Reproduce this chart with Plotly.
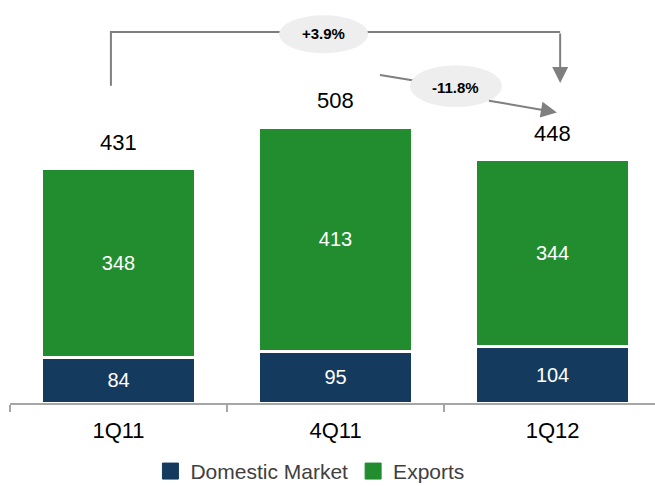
import plotly.graph_objects as go

categories = ["1Q11", "4Q11", "1Q12"]
domestic = [84, 95, 104]
exports = [348, 413, 344]
totals = [431, 508, 448]
series_names = ["Domestic Market", "Exports"]
growth_labels = ["+3.9%", "-11.8%"]

NAVY = "#143A5E"
GREEN = "#218D2F"
GRAY = "#7F7F7F"
FONT = "Arial, Liberation Sans, sans-serif"

fig = go.Figure()
for vals, name, color in [(domestic, series_names[0], NAVY), (exports, series_names[1], GREEN)]:
    fig.add_trace(go.Bar(
        x=categories, y=vals, name=name, showlegend=False,
        marker=dict(color=color, line=dict(color="white", width=3)),
        text=[str(v) for v in vals], textposition="inside",
        insidetextanchor="middle", textangle=0,
        textfont=dict(color="white", size=20, family=FONT),
    ))
# legend entries (square swatches)
for name, color in [(series_names[0], NAVY), (series_names[1], GREEN)]:
    fig.add_trace(go.Scatter(
        x=[None], y=[None], mode="markers", name=name, showlegend=True,
        marker=dict(symbol="square", size=16, color=color, line=dict(color=color, width=1)),
    ))

annotations = []
for c, t in zip(categories, totals):
    annotations.append(dict(x=c, y=t, text=str(t), showarrow=False,
                            yanchor="bottom", yshift=12,
                            font=dict(size=22, color="black", family=FONT)))

shapes = []
# bracket from 1Q11 to 1Q12
yb = 683
shapes.append(dict(type="path", path=f"M -0.035,584 L -0.035,{yb} L 2.035,{yb}",
                   line=dict(color=GRAY, width=2), layer="above"))
annotations.append(dict(x=2.035, y=589, ax=2.035, ay=yb, xref="x", yref="y",
                        axref="x", ayref="y", showarrow=True, arrowhead=2,
                        arrowsize=1.6, arrowwidth=2, arrowcolor=GRAY, text=""))
# diagonal arrow 4Q11 -> 1Q12
shapes.append(dict(type="line", x0=1.205, y0=604, x1=1.6, y1=578,
                   line=dict(color=GRAY, width=2), layer="above"))
annotations.append(dict(x=2.02, y=535, ax=1.7, ay=557, xref="x", yref="y",
                        axref="x", ayref="y", showarrow=True, arrowhead=2,
                        arrowsize=1.6, arrowwidth=2, arrowcolor=GRAY, text=""))
# ellipses
shapes.append(dict(type="circle", x0=0.74, x1=1.15, y0=644, y1=714,
                   fillcolor="#EEEEEE", line=dict(width=0), layer="above"))
shapes.append(dict(type="circle", x0=1.343, x1=1.767, y0=545, y1=622,
                   fillcolor="#EEEEEE", line=dict(width=0), layer="above"))
annotations.append(dict(x=0.945, y=681, text=f"<b>{growth_labels[0]}</b>", showarrow=False,
                        font=dict(size=15, color="black", family=FONT)))
annotations.append(dict(x=1.555, y=580, text=f"<b>{growth_labels[1]}</b>", showarrow=False,
                        font=dict(size=15, color="black", family=FONT)))

fig.update_layout(
    width=655, height=486,
    margin=dict(l=10, r=0, t=0, b=83, autoexpand=False),
    barmode="stack", bargap=0.29,
    plot_bgcolor="white", paper_bgcolor="white",
    font=dict(family=FONT),
    showlegend=True,
    legend=dict(orientation="h", x=0.465, xanchor="center",
                yref="container", y=0.03, yanchor="middle",
                font=dict(size=21, color="#404040", family=FONT),
                traceorder="normal", itemsizing="trace", itemwidth=30,
                tracegroupgap=0),
    annotations=annotations, shapes=shapes,
)
fig.update_xaxes(range=[-0.5, 2.472], showline=True, linecolor="#A6A6A6", linewidth=1.5,
                 ticks="outside", tickson="boundaries", ticklen=7, tickcolor="#A6A6A6",
                 tickwidth=1.5, tickfont=dict(size=22, color="black", family=FONT),
                 ticklabelstandoff=7, automargin=False, showgrid=False)
fig.update_yaxes(range=[0, 742], visible=False, showgrid=False, automargin=False)

fig.write_html("out.html", config={"displayModeBar": False},
               post_script="document.body.style.margin='0';document.body.style.overflow='hidden';")
